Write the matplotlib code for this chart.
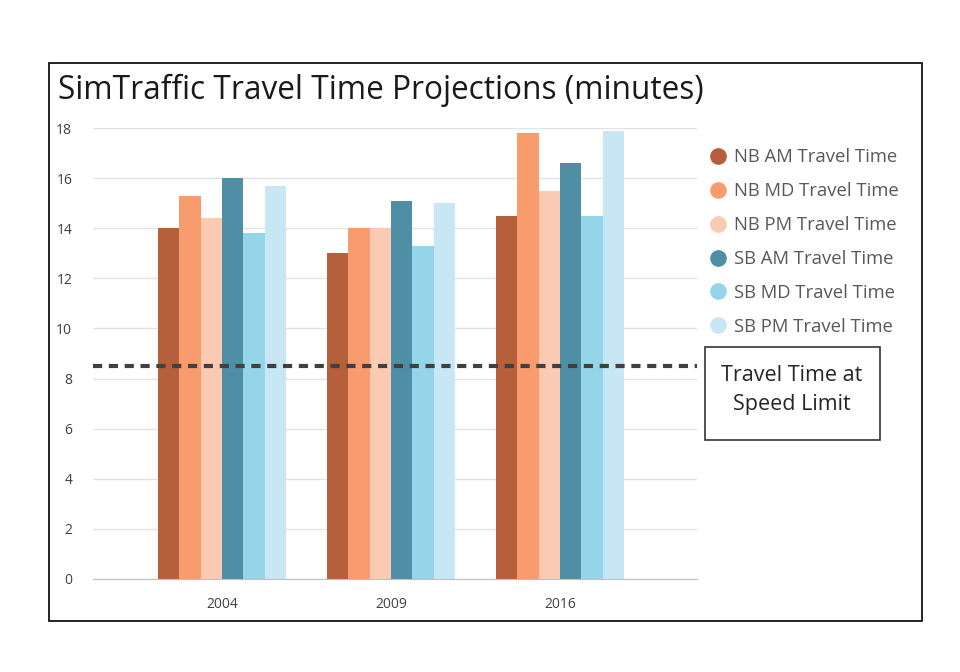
import matplotlib
matplotlib.use("Agg")
import matplotlib.pyplot as plt
from matplotlib.lines import Line2D
from matplotlib.patches import Rectangle
import numpy as np

plt.rcParams['font.family'] = ['Open Sans', 'DejaVu Sans']

years = ["2004", "2009", "2016"]
series = ["NB AM Travel Time", "NB MD Travel Time", "NB PM Travel Time",
          "SB AM Travel Time", "SB MD Travel Time", "SB PM Travel Time"]
values = [
    [14.0, 13.0, 14.5],
    [15.3, 14.0, 17.8],
    [14.4, 14.0, 15.5],
    [16.0, 15.1, 16.6],
    [13.8, 13.3, 14.5],
    [15.7, 15.0, 17.9],
]
colors = ["#B5603A", "#F89C6E", "#FBCAB3", "#4F8FA6", "#94D5EA", "#C8E7F4"]
speed_limit_time = 8.5
yticks = [0, 2, 4, 6, 8, 10, 12, 14, 16, 18]

W, H = 960, 672
fig = plt.figure(figsize=(W/100, H/100), dpi=100)

# outer frame
fig.patches.append(Rectangle((49/W, 1-621/H), (922-49)/W, (621-63)/H,
                             transform=fig.transFigure, fill=False,
                             edgecolor="black", linewidth=1.2))

ax = fig.add_axes([93/W, 1-579/H, (697-93)/W, (579-128)/H])
x = np.arange(len(years))
bw = 0.1265
for i, (s, v, c) in enumerate(zip(series, values, colors)):
    ax.bar(x + (i - 2.5) * bw, v, width=bw, color=c, zorder=3, label=s)

ax.set_xlim(-0.763, 2.81)
ax.set_ylim(0, 18)
ax.set_yticks(yticks)
ax.set_xticks(x)
ax.set_xticklabels(years)
ax.yaxis.grid(True, color="#E3E3E3", linewidth=1, zorder=0)
for sp in ["top", "right", "left"]:
    ax.spines[sp].set_visible(False)
ax.spines["bottom"].set_color("#BFBFBF")
ax.spines["bottom"].set_zorder(4)
ax.tick_params(axis="both", length=0, labelsize=10, colors="#404040")
ax.tick_params(axis="y", pad=15)
ax.tick_params(axis="x", pad=13)

ax.axhline(speed_limit_time, color="#404040", linestyle=(0, (2.2, 1.6)),
           linewidth=3, zorder=5)

fig.text(58/W, 1-90/H, "SimTraffic Travel Time Projections (minutes)",
         fontsize=22.8, color="#1a1a1a", va="center", ha="left")

handles = [Line2D([], [], marker="o", linestyle="none", markersize=11,
                  markerfacecolor=c, markeredgecolor=c) for c in colors]
leg = fig.legend(handles, series, loc="upper left",
                 bbox_to_anchor=(700/W, 1-141/H), frameon=False,
                 fontsize=13.3, labelspacing=0.86, handletextpad=0.25,
                 handlelength=1.2, borderaxespad=0)
for t in leg.get_texts():
    t.set_color("#595959")

fig.patches.append(Rectangle((705/W, 1-440/H), (880-705)/W, (440-347)/H,
                             transform=fig.transFigure, fill=False,
                             edgecolor="#333333", linewidth=1.2))
fig.text(792/W, 1-390/H, "Travel Time at\nSpeed Limit", ha="center",
         va="center", fontsize=15.5, color="#262626", linespacing=1.55)

fig.savefig("out.png", dpi=100)
